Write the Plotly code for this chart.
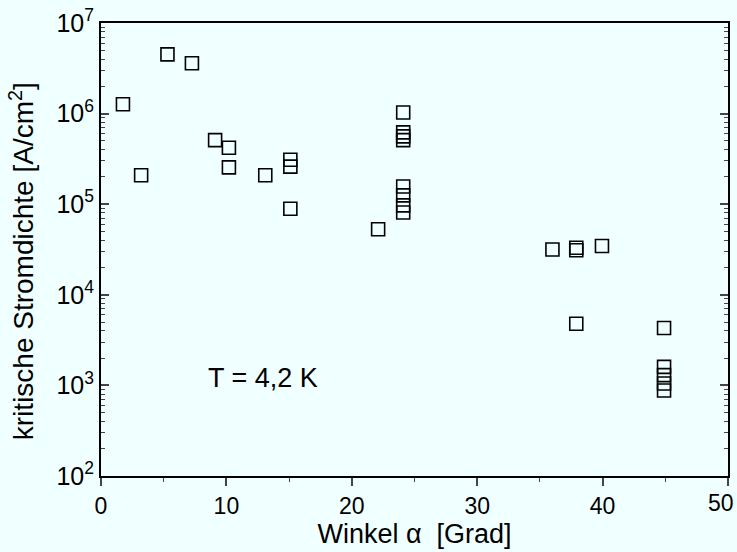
import plotly.graph_objects as go

# Data (angle in degrees, critical current density in A/cm^2)
winkel = [1.75, 3.2, 5.3, 7.25, 9.1, 10.2, 10.2, 13.1, 15.1, 15.1, 15.1,
          22.1, 24.1, 24.1, 24.1, 24.1, 24.1, 24.1, 24.1, 24.1,
          36.0, 37.9, 37.9, 39.95, 37.9, 44.9, 44.9, 44.9, 44.9, 44.9]
stromdichte = [1.27e6, 2.09e5, 4.5e6, 3.6e6, 5.1e5, 4.2e5, 2.55e5, 2.09e5, 3.1e5, 2.6e5, 8.9e4,
               5.3e4, 1.03e6, 6.2e5, 5.6e5, 5.1e5, 1.57e5, 1.25e5, 9.7e4, 8.1e4,
               3.16e4, 3.3e4, 3.1e4, 3.46e4, 4.8e3, 4.3e3, 1.6e3, 1.3e3, 1.05e3, 8.8e2]

x_ticks = [0, 10, 20, 30, 40, 50]
x_ticktext = ["0", "10", "20", "30", "40", "50"]
y_tickvals = [1e2, 1e3, 1e4, 1e5, 1e6, 1e7]
y_ticktext = ["10<sup>2</sup>", "10<sup>3</sup>", "10<sup>4</sup>",
              "10<sup>5</sup>", "10<sup>6</sup>", "10<sup>7</sup>"]

font_family = "Liberation Sans, Arial, sans-serif"
bg = "#F0FFFF"

fig = go.Figure()
fig.add_trace(go.Scatter(
    x=winkel, y=stromdichte, mode="markers",
    marker=dict(symbol="square-open", size=13, color="black",
                line=dict(width=1.6, color="black")),
    showlegend=False,
))

fig.add_annotation(x=8.4, y=3.08, xref="x", yref="y", text="T = 4,2 K",
                   showarrow=False, xanchor="left", yanchor="middle",
                   font=dict(size=27, color="black", family=font_family))

# y-axis title placed as rotated annotation (slightly below the axis centre, as in the reference)
fig.add_annotation(x=-0.127, y=0.475, xref="paper", yref="paper",
                   text="kritische Stromdichte [A/cm<sup>2</sup>]", textangle=-90,
                   showarrow=False, xanchor="center", yanchor="middle",
                   font=dict(size=28, color="black", family=font_family))

# the last x tick label sits at the right page edge: draw it right-aligned so it stays inside
fig.add_annotation(x=x_ticks[-1], y=0, xref="x", yref="paper", text=x_ticktext[-1],
                   showarrow=False, xanchor="right", yanchor="top", xshift=8, yshift=-12,
                   font=dict(size=23, color="black", family=font_family))

fig.update_xaxes(
    range=[0, 50], tickvals=x_ticks, ticktext=x_ticktext[:-1] + [""],
    ticks="outside", ticklen=8, tickwidth=1.5,
    minor=dict(dtick=5, ticks="outside", ticklen=4, tickwidth=1),
    showline=True, linecolor="black", linewidth=2, mirror=True,
    showgrid=False, zeroline=False, automargin=False,
    tickfont=dict(size=23, color="black", family=font_family),
    title=dict(text="Winkel \u03b1  [Grad]", standoff=6,
               font=dict(size=27, color="black", family=font_family)),
)
fig.update_yaxes(
    type="log", range=[2, 7], tickvals=y_tickvals, ticktext=y_ticktext,
    ticks="inside", ticklen=8, tickwidth=1.5,
    minor=dict(ticks="inside", ticklen=4, tickwidth=1, dtick="D1", showgrid=False),
    showline=True, linecolor="black", linewidth=2, mirror="allticks",
    showgrid=False, zeroline=False, automargin=False,
    tickfont=dict(size=25, color="black", family=font_family),
)

fig.update_layout(
    width=737, height=552,
    margin=dict(l=101, r=9, t=23, b=76),
    paper_bgcolor=bg, plot_bgcolor=bg,
)

fig.write_html("out.html")
